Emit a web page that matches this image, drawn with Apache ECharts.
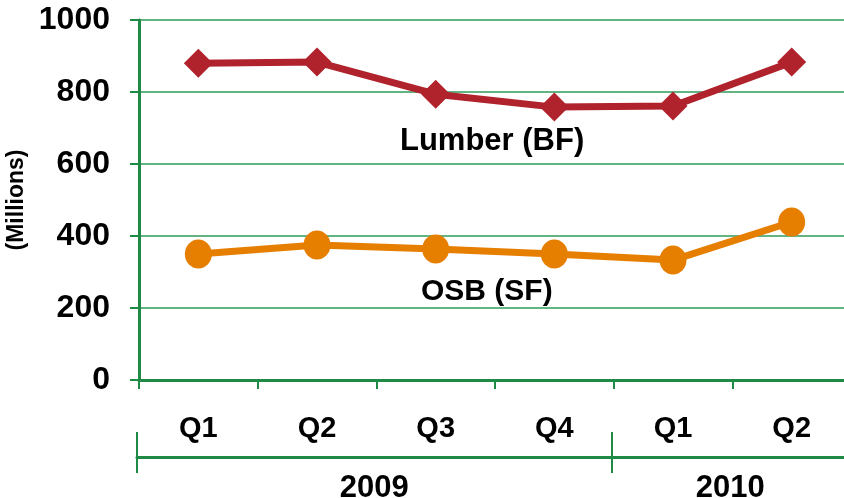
<!DOCTYPE html>
<html>
<head>
<meta charset="utf-8">
<script src="https://cdn.jsdelivr.net/npm/echarts@6/dist/echarts.min.js"></script>
<style>
  html, body { margin: 0; padding: 0; background: #fff; }
  #chart { width: 844px; height: 498px; }
</style>
</head>
<body>
<div id="chart"></div>
<script>
// quarters and years
var quarters = ['Q1', 'Q2', 'Q3', 'Q4', 'Q1', 'Q2'];
var yearLabels = ['2009', '2010'];
var yearSpans = [4, 2];

// millions
var lumber = [880, 883, 794, 758, 761, 883];
var osb = [350, 375, 364, 350, 333, 439];

var yTicks = [0, 200, 400, 600, 800, 1000];

var FONT = '"Liberation Sans", Arial, sans-serif';
var GREEN = '#1e8a45';

// where each year starts and its middle, in quarter units
var yearStarts = [];
var yearMids = [];
var acc = 0;
for (var i = 0; i < yearSpans.length; i++) {
    yearStarts.push(acc);
    yearMids.push(acc + yearSpans[i] / 2);
    acc += yearSpans[i];
}

var chart = echarts.init(document.getElementById('chart'));
chart.setOption({
    animation: false,
    grid: [
        {left: 139, top: 20, width: 712, height: 360, outerBoundsMode: 'none'},
        {left: 137, top: 456, width: 712, height: 1, outerBoundsMode: 'none'}
    ],
    xAxis: [
        {
            type: 'category',
            gridIndex: 0,
            data: quarters,
            boundaryGap: true,
            axisLine: {lineStyle: {color: GREEN, width: 3}},
            axisTick: {show: true, length: 9, lineStyle: {color: GREEN, width: 2}},
            axisLabel: {
                margin: 34,
                fontFamily: FONT,
                fontWeight: 'bold',
                fontSize: 29,
                color: '#000'
            },
            splitLine: {show: false}
        },
        {
            type: 'value',
            gridIndex: 1,
            position: 'bottom',
            min: 0,
            max: acc,
            axisLine: {lineStyle: {color: GREEN, width: 3}},
            axisTick: {show: true, customValues: yearStarts, length: 16, lineStyle: {color: GREEN, width: 2}},
            axisLabel: {
                customValues: yearMids,
                formatter: function (v) {
                    var k = yearMids.indexOf(v);
                    return k >= 0 ? yearLabels[k] : '';
                },
                margin: 16,
                fontFamily: FONT,
                fontWeight: 'bold',
                fontSize: 31,
                color: '#000'
            },
            splitLine: {show: false}
        },
        {
            type: 'value',
            gridIndex: 1,
            position: 'bottom',
            offset: 0,
            min: 0,
            max: acc,
            axisLine: {show: false},
            axisTick: {show: true, inside: true, customValues: yearStarts, length: 25, lineStyle: {color: GREEN, width: 2}},
            axisLabel: {show: false},
            splitLine: {show: false}
        }
    ],
    yAxis: [
        {
            type: 'value',
            gridIndex: 0,
            min: yTicks[0],
            max: yTicks[yTicks.length - 1],
            interval: yTicks[1] - yTicks[0],
            name: '(Millions)',
            nameLocation: 'middle',
            nameGap: 110,
            nameTextStyle: {fontFamily: FONT, fontWeight: 'bold', fontSize: 23, color: '#000'},
            axisLine: {show: true, lineStyle: {color: GREEN, width: 3}},
            axisTick: {show: true, length: 9, lineStyle: {color: GREEN, width: 2}},
            axisLabel: {
                margin: 29,
                formatter: function (v) { return String(v); },
                fontFamily: FONT,
                fontWeight: 'bold',
                fontSize: 32,
                color: '#000'
            },
            splitLine: {lineStyle: {color: '#2f9a5a', width: 1.5}}
        },
        {
            type: 'value',
            gridIndex: 1,
            show: false
        }
    ],
    series: [
        {
            name: 'Lumber (BF)',
            type: 'line',
            xAxisIndex: 0,
            yAxisIndex: 0,
            data: lumber,
            symbol: 'diamond',
            symbolSize: 29,
            lineStyle: {color: '#b0222c', width: 7},
            itemStyle: {color: '#b0222c'}
        },
        {
            name: 'OSB (SF)',
            type: 'line',
            xAxisIndex: 0,
            yAxisIndex: 0,
            data: osb,
            symbol: 'circle',
            symbolSize: [27, 29],
            lineStyle: {color: '#e67e00', width: 7},
            itemStyle: {color: '#e67e00'}
        }
    ],
    graphic: [
        {
            type: 'text',
            left: 400,
            top: 126,
            style: {text: 'Lumber (BF)', fontFamily: FONT, fontWeight: 'bold', fontSize: 31, fill: '#000'}
        },
        {
            type: 'text',
            left: 421,
            top: 277,
            style: {text: 'OSB (SF)', fontFamily: FONT, fontWeight: 'bold', fontSize: 30, fill: '#000'}
        }
    ]
});
</script>
</body>
</html>
